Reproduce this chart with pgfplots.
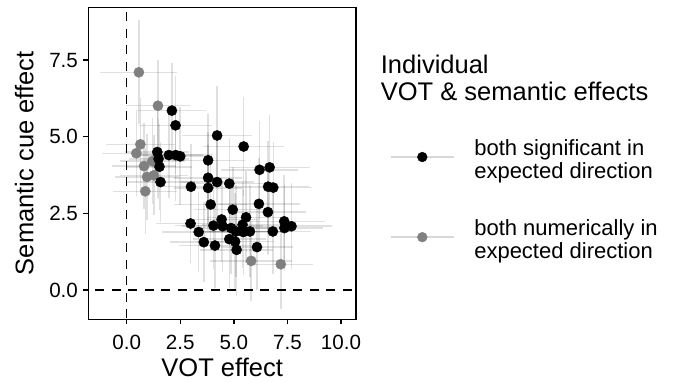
\documentclass[border=0pt]{standalone}
\usepackage{fontspec}
\setmainfont{Liberation Sans}
\usepackage{pgfplots}
\pgfplotsset{compat=1.18}
\usepackage{pgfplotstable}
\definecolor{ptgray}{RGB}{128,128,128}
\definecolor{keygray}{RGB}{215,215,215}

\pgfplotstableread{
x y ex ey
2.11 5.85 1.6 1.55
2.28 5.37 1.7 1.6
4.22 5.04 1.65 1.6
5.46 4.68 1.9 1.6
1.43 4.50 1.5 1.5
1.97 4.40 1.6 1.4
2.29 4.40 1.7 1.5
2.50 4.36 1.5 1.6
1.49 4.28 1.4 1.3
1.53 4.02 1.5 1.4
1.58 3.52 1.6 1.3
3.80 4.23 1.7 1.5
6.20 3.92 1.8 1.6
6.67 4.00 1.9 1.7
3.80 3.66 1.6 1.5
4.22 3.52 1.7 1.4
4.79 3.47 1.8 1.5
3.80 3.33 1.6 1.4
3.00 3.37 1.5 1.4
6.60 3.37 1.9 1.5
6.84 3.34 1.8 1.5
3.92 2.79 1.7 1.5
4.95 2.62 1.8 1.4
6.17 2.81 1.9 1.5
6.59 2.54 1.8 1.4
2.98 2.17 1.6 1.3
3.36 1.89 1.7 1.3
3.60 1.56 1.6 1.3
4.12 1.45 1.7 1.4
4.05 2.10 1.8 1.4
4.43 2.30 1.7 1.4
4.48 2.08 1.9 1.5
4.87 2.02 1.8 1.5
4.79 1.66 1.7 1.6
5.06 1.58 1.8 1.6
5.13 1.31 1.7 1.5
5.41 2.13 1.9 1.4
5.57 2.37 1.8 1.5
5.44 1.89 1.8 1.4
5.75 1.91 1.9 1.5
6.08 1.40 1.7 1.4
6.82 1.91 1.8 1.4
7.35 2.24 1.9 1.5
7.36 2.02 1.8 1.4
7.69 2.08 1.9 1.4
5.10 1.91 1.8 1.5
}\sigdata

\pgfplotstableread{
x y ex ey
0.57 7.10 1.8 1.7
1.46 6.01 1.5 1.5
0.64 4.75 1.6 1.5
0.45 4.46 1.6 1.4
0.81 4.04 1.5 1.4
0.95 3.69 1.5 1.4
1.27 3.74 1.6 1.3
0.87 3.22 1.5 1.4
1.20 4.20 1.5 1.4
5.81 0.95 1.9 1.3
7.19 0.84 1.5 1.45
}\numdata

\begin{document}
\begin{tikzpicture}
\begin{axis}[
  scale only axis, width=267.7pt, height=312pt,
  xmin=-1.79, xmax=10.70, ymin=-0.955, ymax=9.22,
  axis line style={black, line width=1.4pt},
  xtick={0,2.5,5,7.5,10}, ytick={0,2.5,5,7.5},
  xticklabels={0.0,2.5,5.0,7.5,10.0}, yticklabels={0.0,2.5,5.0,7.5},
  tick align=outside, tick pos=left,
  major tick length=5pt, tick style={black, line width=1.4pt},
  tick label style={font=\fontsize{20.6}{24}\selectfont, inner sep=0pt},
  xticklabel style={anchor=north, yshift=-10.7pt},
  yticklabel style={anchor=east, xshift=-5.2pt},
  reverse legend,
  legend style={at={(axis description cs:1.127,0.583)}, anchor=north west,
    draw=none, fill=none, inner sep=0pt, row sep=35.7pt, column sep=18pt,
    font=\fontsize{22}{23}\selectfont,
    cells={anchor=west, align=left, inner sep=0pt}},
]
\addplot[black, line width=1.6pt, dash pattern=on 9pt off 7.5pt, forget plot] coordinates {(0,-2) (0,11)};
\addplot[black, line width=1.6pt, dash pattern=on 9pt off 7.5pt, forget plot] coordinates {(-3,0) (12,0)};
\addplot[only marks, mark=none, forget plot,
  error bars/.cd, x dir=both, x explicit, y dir=both, y explicit, error mark=none,
  error bar style={black, opacity=0.12, line width=1.5pt}]
  table[x=x, y=y, x error=ex, y error=ey] {\numdata};
\addplot[only marks, mark=none, forget plot,
  error bars/.cd, x dir=both, x explicit, y dir=both, y explicit, error mark=none,
  error bar style={black, opacity=0.12, line width=1.5pt}]
  table[x=x, y=y, x error=ex, y error=ey] {\sigdata};
\addplot[only marks, mark=*, mark size=5.1pt, mark options={fill=ptgray, draw=ptgray, line width=0.4pt},
  legend image code/.code={
    \draw[keygray, line width=1.4pt] (0pt,2.8pt) -- (62.7pt,2.8pt);
    \draw[mark=*, mark size=4.9pt, mark options={fill=ptgray, draw=ptgray}] plot coordinates {(31.4pt,2.8pt)};
  }]
  table[x=x, y=y] {\numdata};
\addlegendentry{both numerically in\\expected direction}
\addplot[only marks, mark=*, mark size=5.1pt, mark options={fill=black, draw=black, line width=0.4pt},
  legend image code/.code={
    \draw[keygray, line width=1.4pt] (0pt,2.8pt) -- (62.7pt,2.8pt);
    \draw[mark=*, mark size=4.9pt, mark options={fill=black, draw=black}] plot coordinates {(31.4pt,2.8pt)};
  }]
  table[x=x, y=y] {\sigdata};
\addlegendentry{both significant in\\expected direction}
\end{axis}
\node[anchor=base, font=\fontsize{25.5}{30}\selectfont, inner sep=0pt] at (133.85pt,-57.2pt) {VOT effect};
\node[anchor=base, rotate=90, font=\fontsize{25.5}{30}\selectfont, inner sep=0pt] at (-55pt,156pt) {Semantic cue effect};
\node[anchor=base west, font=\fontsize{25.5}{30}\selectfont, inner sep=0pt] at (292.4pt,246pt) {Individual};
\node[anchor=base west, font=\fontsize{25.5}{30}\selectfont, inner sep=0pt] at (292.4pt,218.3pt) {VOT \& semantic effects};
\pgfresetboundingbox
\path (-88.3pt,-61.7pt) rectangle (584.7pt,319.3pt);
\end{tikzpicture}
\end{document}
